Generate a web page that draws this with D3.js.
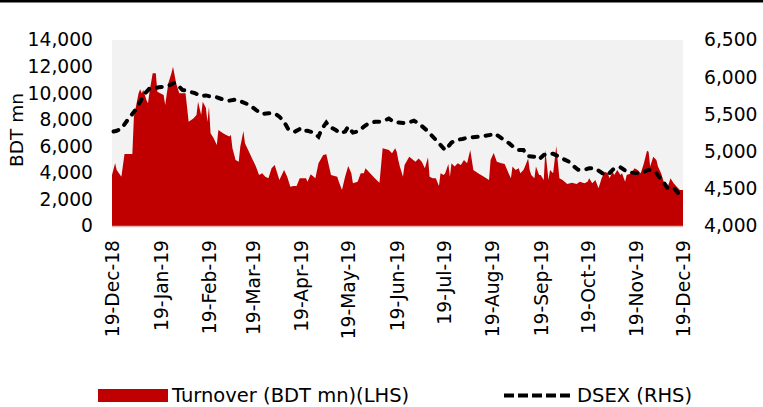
<!DOCTYPE html>
<html>
<head>
<meta charset="utf-8">
<script src="https://cdn.jsdelivr.net/npm/d3@7"></script>
<style>
  body { margin: 0; background: #fff; }
  svg text { font-family: "DejaVu Sans", Verdana, sans-serif; fill: #000; }
</style>
</head>
<body>
<script>
// turnover, BDT mn (left axis)
const turnoverDates = [
  "2018-12-19","2018-12-21","2018-12-22","2018-12-25","2018-12-27","2019-01-01","2019-01-02","2019-01-05","2019-01-06","2019-01-07",
  "2019-01-08","2019-01-10","2019-01-11","2019-01-12","2019-01-14","2019-01-16","2019-01-17","2019-01-21","2019-01-22","2019-01-24",
  "2019-01-26","2019-01-27","2019-01-29","2019-01-31","2019-02-04","2019-02-06","2019-02-09","2019-02-11","2019-02-12","2019-02-14",
  "2019-02-15","2019-02-17","2019-02-18","2019-02-19","2019-02-20","2019-02-22","2019-02-24","2019-02-25","2019-02-28","2019-03-02",
  "2019-03-04","2019-03-05","2019-03-06","2019-03-08","2019-03-10","2019-03-11","2019-03-13","2019-03-14","2019-03-17","2019-03-19",
  "2019-03-21","2019-03-23","2019-03-25","2019-03-27","2019-03-29","2019-03-31","2019-04-02","2019-04-04","2019-04-05","2019-04-08",
  "2019-04-10","2019-04-12","2019-04-14","2019-04-16","2019-04-18","2019-04-22","2019-04-23","2019-04-25","2019-04-28","2019-04-30",
  "2019-05-03","2019-05-05","2019-05-08","2019-05-12","2019-05-13","2019-05-15","2019-05-17","2019-05-19","2019-05-21","2019-05-22",
  "2019-05-25","2019-05-27","2019-05-29","2019-05-30","2019-06-02","2019-06-05","2019-06-08","2019-06-10","2019-06-14","2019-06-16",
  "2019-06-18","2019-06-19","2019-06-20","2019-06-21","2019-06-23","2019-06-24","2019-06-27","2019-06-29","2019-07-01","2019-07-03",
  "2019-07-05","2019-07-07","2019-07-09","2019-07-10","2019-07-12","2019-07-14","2019-07-16","2019-07-17","2019-07-19","2019-07-20",
  "2019-07-22","2019-07-23","2019-07-24","2019-07-26","2019-07-28","2019-07-30","2019-08-01","2019-08-03","2019-08-05","2019-08-07",
  "2019-08-10","2019-08-13","2019-08-17","2019-08-18","2019-08-20","2019-08-22","2019-08-25","2019-08-27","2019-08-30","2019-08-31",
  "2019-09-01","2019-09-03","2019-09-05","2019-09-06","2019-09-08","2019-09-09","2019-09-11","2019-09-12","2019-09-13","2019-09-15",
  "2019-09-16","2019-09-18","2019-09-19","2019-09-21","2019-09-22","2019-09-24","2019-09-25","2019-09-27","2019-09-29","2019-10-01",
  "2019-10-03","2019-10-06","2019-10-09","2019-10-12","2019-10-14","2019-10-17","2019-10-19","2019-10-20","2019-10-22","2019-10-24",
  "2019-10-26","2019-10-28","2019-10-30","2019-11-01","2019-11-02","2019-11-04","2019-11-05","2019-11-07","2019-11-09","2019-11-10",
  "2019-11-12","2019-11-13","2019-11-16","2019-11-18","2019-11-20","2019-11-22","2019-11-24","2019-11-26","2019-11-27","2019-11-28",
  "2019-11-30","2019-12-02","2019-12-03","2019-12-05","2019-12-07","2019-12-09","2019-12-11","2019-12-13","2019-12-15","2019-12-17",
  "2019-12-19"
];
const turnoverValues = [
  3840,4720,4220,3710,5420,5420,8230,9990,10290,9990,
  10240,9480,9230,10100,11490,11490,10100,9860,9110,10740,
  11490,11990,10740,9990,9990,7850,8100,8360,9360,8360,
  9360,8900,7850,8980,6980,6600,6100,7230,6980,6850,
  6730,6850,5850,4970,4840,5970,7150,6220,5470,4970,
  4470,3840,3970,3710,3590,4340,4590,3840,3460,4220,
  3710,2960,3010,3010,3590,3590,3340,3890,3590,4720,
  5340,5400,3840,3710,3340,2710,3710,4520,3970,3210,
  3340,3970,3970,4340,3970,3590,3260,5850,5720,5470,
  5850,5590,4970,4470,3710,4590,5220,5020,4840,5090,
  4840,4340,5170,3710,3590,3590,3010,3970,3840,3970,
  4670,3710,4720,4470,4720,4590,4970,4720,5720,4220,
  3970,3770,3460,4970,5500,4840,4720,4670,3840,3590,
  4470,4220,4340,3970,4220,4470,5090,4220,3840,3590,
  4470,3840,3840,3460,5720,3460,4220,3970,6020,3590,
  3460,3160,3260,3160,3340,3210,3340,3590,3210,3460,
  2840,3590,4090,3970,3590,4090,3840,4220,3840,3970,
  3340,3840,3970,4340,4220,3970,4720,5670,5590,4470,
  5220,4970,4470,3970,3210,2840,3590,3210,2960,2710,
  2710
];

// DSEX index (right axis)
const dsexDates = [
  "2018-12-20","2018-12-22","2018-12-25","2018-12-29","2019-01-03","2019-01-06","2019-01-09","2019-01-12","2019-01-15","2019-01-18",
  "2019-01-22","2019-01-25","2019-01-28","2019-01-30","2019-02-02","2019-02-06","2019-02-10","2019-02-14","2019-02-17","2019-02-20",
  "2019-02-24","2019-02-28","2019-03-04","2019-03-08","2019-03-12","2019-03-17","2019-03-21","2019-03-25","2019-03-29","2019-04-02",
  "2019-04-05","2019-04-08","2019-04-11","2019-04-15","2019-04-19","2019-04-21","2019-04-23","2019-04-27","2019-04-30","2019-05-02",
  "2019-05-05","2019-05-07","2019-05-11","2019-05-14","2019-05-17","2019-05-19","2019-05-22","2019-05-25","2019-05-29","2019-06-01",
  "2019-06-05","2019-06-08","2019-06-12","2019-06-14","2019-06-17","2019-06-20","2019-06-25","2019-06-30","2019-07-03","2019-07-08",
  "2019-07-11","2019-07-15","2019-07-20","2019-07-24","2019-07-27","2019-07-31","2019-08-04","2019-08-10","2019-08-14","2019-08-18",
  "2019-08-20","2019-08-23","2019-08-26","2019-08-30","2019-09-02","2019-09-05","2019-09-08","2019-09-11","2019-09-15","2019-09-18",
  "2019-09-21","2019-09-24","2019-09-27","2019-10-01","2019-10-04","2019-10-07","2019-10-10","2019-10-13","2019-10-17","2019-10-20",
  "2019-10-24","2019-10-27","2019-10-30","2019-11-02","2019-11-05","2019-11-09","2019-11-13","2019-11-17","2019-11-20","2019-11-23",
  "2019-11-27","2019-11-30","2019-12-02","2019-12-04","2019-12-07","2019-12-09","2019-12-13","2019-12-16","2019-12-18"
];
const dsexValues = [
  5270,5280,5310,5425,5560,5670,5780,5850,5850,5865,
  5875,5895,5925,5895,5830,5810,5785,5745,5755,5740,
  5730,5700,5685,5700,5670,5625,5560,5505,5515,5515,
  5470,5400,5290,5270,5315,5280,5280,5255,5200,5300,
  5390,5335,5290,5245,5270,5335,5255,5270,5335,5380,
  5400,5400,5425,5445,5400,5390,5380,5415,5380,5290,
  5225,5135,5020,5120,5155,5170,5190,5200,5210,5225,
  5245,5210,5165,5110,5055,5020,5020,4940,4930,4895,
  4955,4975,4970,4930,4895,4865,4805,4755,4755,4775,
  4775,4730,4685,4710,4775,4790,4730,4715,4710,4720,
  4755,4740,4710,4655,4575,4515,4515,4440,4415
];

const xTickLabels = ["19-Dec-18","19-Jan-19","19-Feb-19","19-Mar-19","19-Apr-19","19-May-19","19-Jun-19",
  "19-Jul-19","19-Aug-19","19-Sep-19","19-Oct-19","19-Nov-19","19-Dec-19"];
const leftTicks = [0,2000,4000,6000,8000,10000,12000,14000];
const rightTicks = [4000,4500,5000,5500,6000,6500];

const width = 763, height = 407;
const plotL = 112, plotR = 683, plotT = 40, plotB = 226;

const parseDay = d3.timeParse("%Y-%m-%d");
const parseTick = d3.timeParse("%d-%b-%y");
const fmt = d3.format(",");

const turnover = turnoverDates.map((d, i) => ({date: parseDay(d), value: turnoverValues[i]}));
const dsex = dsexDates.map((d, i) => ({date: parseDay(d), value: dsexValues[i]}));
const tickDates = xTickLabels.map(parseTick);

const x = d3.scaleTime()
    .domain([tickDates[0], tickDates[tickDates.length - 1]])
    .range([plotL, plotR]);
const yL = d3.scaleLinear().domain([0, 14000]).range([plotB, plotT]);
const yR = d3.scaleLinear().domain([4000, 6500]).range([plotB, plotT]);

const svg = d3.select("body").append("svg")
    .attr("width", width)
    .attr("height", height);

// black rule at the top
svg.append("rect").attr("x", 0).attr("y", 0).attr("width", width).attr("height", 2.5).attr("fill", "#000");

// plot background
svg.append("rect")
    .attr("x", plotL).attr("y", plotT)
    .attr("width", plotR - plotL).attr("height", plotB - plotT)
    .attr("fill", "#f2f2f2");

const area = d3.area()
    .x(d => x(d.date))
    .y0(yL(0))
    .y1(d => yL(d.value));

svg.append("path")
    .datum(turnover)
    .attr("d", area)
    .attr("fill", "#c00000");

// base line
svg.append("line")
    .attr("x1", plotL).attr("x2", plotR)
    .attr("y1", plotB + 0.5).attr("y2", plotB + 0.5)
    .attr("stroke", "#dcb4b4").attr("stroke-width", 1.5);

const line = d3.line()
    .x(d => x(d.date))
    .y(d => yR(d.value));

svg.append("path")
    .datum(dsex)
    .attr("d", line)
    .attr("fill", "none")
    .attr("stroke", "#000")
    .attr("stroke-width", 4)
    .attr("stroke-linecap", "round")
    .attr("stroke-dasharray", "5,8");

// axes
const axisL = svg.append("g")
    .attr("transform", `translate(${plotL - 19},0)`)
    .call(d3.axisLeft(yL).tickValues(leftTicks).tickFormat(fmt).tickSize(0).tickPadding(0));
const axisR = svg.append("g")
    .attr("transform", `translate(${plotR + 21},0)`)
    .call(d3.axisRight(yR).tickValues(rightTicks).tickFormat(fmt).tickSize(0).tickPadding(0));
const axisX = svg.append("g")
    .attr("transform", `translate(0,${plotB})`)
    .call(d3.axisBottom(x).tickValues(tickDates).tickFormat((d, i) => xTickLabels[i]).tickSize(0));

[axisL, axisR, axisX].forEach(g => {
  g.select(".domain").remove();
  g.selectAll("text").style("font-size", "18.7px").attr("fill", "#000");
});

axisX.selectAll("text")
    .attr("transform", "rotate(-90)")
    .attr("text-anchor", "end")
    .attr("x", -14)
    .attr("y", 0)
    .attr("dy", "0.35em");

// y axis title
svg.append("text")
    .attr("transform", "translate(23,130) rotate(-90)")
    .attr("text-anchor", "middle")
    .style("font-size", "18.5px")
    .text("BDT mn");

// legend
const legend = svg.append("g");
legend.append("rect")
    .attr("x", 98).attr("y", 389)
    .attr("width", 70).attr("height", 13)
    .attr("fill", "#c00000");
legend.append("text")
    .attr("x", 172).attr("y", 401.5)
    .style("font-size", "19.5px")
    .text("Turnover (BDT mn)(LHS)");
legend.append("line")
    .attr("x1", 504).attr("x2", 570)
    .attr("y1", 395.5).attr("y2", 395.5)
    .attr("stroke", "#000")
    .attr("stroke-width", 4)
    .attr("stroke-dasharray", "10,4");
legend.append("text")
    .attr("x", 577).attr("y", 401.5)
    .style("font-size", "19.5px")
    .text("DSEX (RHS)");
</script>
</body>
</html>
